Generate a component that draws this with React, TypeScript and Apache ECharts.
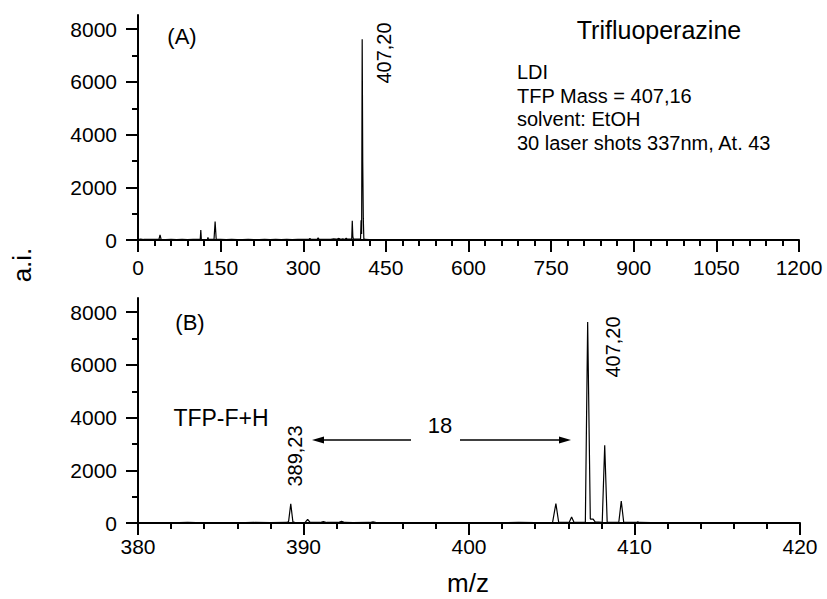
import React, { useEffect, useRef } from "react";
import * as echarts from "echarts";

// Panel A: full range spectrum (m/z, intensity)
const topMz = [0, 5, 10, 20, 30, 38, 40, 42, 50, 60, 70, 80, 90, 100, 110, 113, 114, 115, 120, 126, 127, 128, 138, 140, 142, 150, 160, 170, 180, 190, 200, 210, 220, 230, 240, 250, 260, 270, 280, 290, 300, 310, 312, 314, 325, 327, 329, 340, 350, 355, 360, 365, 368, 372, 375, 378, 380, 388, 389, 390, 391, 404, 405, 406, 407, 408, 409, 410, 412, 420, 440, 480, 520, 560, 600, 650, 700, 750, 800, 850, 900, 950, 1000, 1050, 1100, 1150, 1200];
const topInt = [20, 30, 20, 25, 20, 20, 190, 20, 15, 20, 15, 20, 15, 20, 20, 20, 380, 20, 15, 20, 100, 20, 20, 700, 20, 20, 15, 20, 15, 15, 20, 15, 15, 20, 15, 20, 15, 20, 15, 20, 20, 25, 60, 20, 20, 80, 20, 20, 25, 40, 30, 60, 25, 40, 20, 70, 30, 30, 730, 140, 30, 30, 750, 230, 7620, 2950, 830, 50, 20, 15, 15, 12, 12, 10, 10, 10, 10, 10, 10, 10, 10, 10, 10, 10, 10, 10, 10];

// Panel B: zoom 380-420
const botMz = [380, 381, 382, 383, 384, 385, 386, 387, 388, 389.0, 389.1, 389.23, 389.36, 389.5, 390.1, 390.25, 390.4, 391.0, 391.2, 391.4, 392.1, 392.3, 392.5, 393, 394, 394.2, 394.4, 395, 396, 397, 398, 399, 400, 401, 402, 403, 404, 405.05, 405.25, 405.42, 406.05, 406.2, 406.35, 407.03, 407.17, 407.33, 407.5, 407.62, 408.05, 408.2, 408.35, 409.05, 409.2, 409.35, 410.1, 410.2, 410.3, 411, 412, 413, 414, 415, 416, 417, 418, 419, 420];
const botInt = [10, 15, 10, 20, 10, 15, 10, 20, 15, 20, 60, 730, 40, 15, 20, 140, 20, 20, 50, 20, 20, 60, 20, 15, 20, 40, 15, 10, 15, 10, 15, 10, 15, 10, 15, 20, 15, 20, 740, 20, 20, 230, 20, 20, 7630, 150, 150, 40, 20, 2950, 20, 20, 830, 20, 20, 40, 20, 15, 10, 15, 10, 15, 10, 15, 10, 15, 10];

const yMajor = [0, 2000, 4000, 6000, 8000];
const yMinor = [1000, 3000, 5000, 7000];
const topXTicks = { min: 0, max: 1200, interval: 150 };
const botXTicks = { min: 380, max: 420, interval: 10 };

const FONT = "Liberation Sans, Arial, sans-serif";

export default function App() {
  const ref = useRef<HTMLDivElement>(null);
  useEffect(() => {
    if (!ref.current) return;
    const chart = echarts.init(ref.current, undefined, { renderer: "svg" });
    const axisColor = "#000";
    const yMax = 8540;
    const plain = (v: number) => String(v);
    const mkX = (grid: number, t: { min: number; max: number; interval: number }, margin: number) => ({
      type: "value",
      gridIndex: grid,
      min: t.min,
      max: t.max,
      interval: t.interval,
      axisLine: { show: true, onZero: false, lineStyle: { color: axisColor, width: 2 } },
      axisTick: { show: true, length: 12, lineStyle: { color: axisColor, width: 2 } },
      minorTick: { show: true, splitNumber: 5, length: 6, lineStyle: { color: axisColor, width: 2 } },
      axisLabel: { color: "#000", fontSize: 21, fontFamily: FONT, margin, formatter: plain },
      splitLine: { show: false },
    });
    const mkYMajor = (grid: number) => ({
      type: "value",
      gridIndex: grid,
      min: 0,
      max: yMax,
      axisLine: { show: true, onZero: false, lineStyle: { color: axisColor, width: 2 } },
      axisTick: { show: true, length: 12, customValues: yMajor, lineStyle: { color: axisColor, width: 2 } },
      axisLabel: { color: "#000", fontSize: 21, fontFamily: FONT, margin: 21, customValues: yMajor, formatter: plain },
      splitLine: { show: false },
    });
    const mkYMinor = (grid: number) => ({
      type: "value",
      gridIndex: grid,
      position: "left",
      min: 0,
      max: yMax,
      axisLine: { show: false },
      axisTick: { show: true, length: 6, customValues: yMinor, lineStyle: { color: axisColor, width: 2 } },
      axisLabel: { show: false },
      splitLine: { show: false },
    });
    const zip = (a: number[], b: number[]) => a.map((v, i) => [v, b[i]]);
    const txt = (x: number, y: number, text: string, size: number, extra: any = {}) => ({
      type: "text",
      x,
      y,
      ...extra,
      style: { text, fill: "#000", font: `${size}px ${FONT}`, textAlign: "center", textVerticalAlign: "middle" },
    });
    const left = (x: number, y: number, text: string) => ({
      type: "text",
      x,
      y,
      style: { text, fill: "#000", font: `20px ${FONT}`, textVerticalAlign: "middle" },
    });
    chart.setOption({
      animation: false,
      backgroundColor: "#fff",
      grid: [
        { left: 138, right: 28, top: 15, height: 225 },
        { left: 138, right: 27, top: 298, height: 225 },
      ],
      xAxis: [mkX(0, topXTicks, 17), mkX(1, botXTicks, 13)],
      yAxis: [mkYMajor(0), mkYMinor(0), mkYMajor(1), mkYMinor(1)],
      series: [
        {
          type: "line",
          xAxisIndex: 0,
          yAxisIndex: 0,
          data: zip(topMz, topInt),
          showSymbol: false,
          lineStyle: { color: "#000", width: 1.2 },
        },
        {
          type: "line",
          xAxisIndex: 1,
          yAxisIndex: 2,
          data: zip(botMz, botInt),
          showSymbol: false,
          lineStyle: { color: "#000", width: 1.2 },
        },
      ],
      graphic: [
        txt(182, 36, "(A)", 22),
        txt(190, 322, "(B)", 22),
        txt(659, 30, "Trifluoperazine", 25),
        left(517, 72, "LDI"),
        left(517, 96, "TFP Mass = 407,16"),
        left(517, 119, "solvent: EtOH"),
        left(517, 143, "30 laser shots 337nm, At. 43"),
        txt(384, 53, "407,20", 20, { rotation: Math.PI / 2 }),
        txt(613, 347, "407,20", 20, { rotation: Math.PI / 2 }),
        txt(295, 456, "389,23", 20, { rotation: Math.PI / 2 }),
        txt(221, 418, "TFP-F+H", 23),
        txt(440, 425, "18", 22),
        txt(22, 265, "a.i.", 26, { rotation: Math.PI / 2 }),
        txt(468, 583, "m/z", 26),
        { type: "line", shape: { x1: 411, y1: 440, x2: 322, y2: 440 }, style: { stroke: "#000", lineWidth: 1.3 } },
        { type: "polygon", shape: { points: [[312, 440], [324, 436.5], [324, 443.5]] }, style: { fill: "#000" } },
        { type: "line", shape: { x1: 460, y1: 440, x2: 560, y2: 440 }, style: { stroke: "#000", lineWidth: 1.3 } },
        { type: "polygon", shape: { points: [[571, 440], [559, 436.5], [559, 443.5]] }, style: { fill: "#000" } },
      ],
    });
    return () => chart.dispose();
  }, []);
  return <div ref={ref} style={{ position: "absolute", left: 0, top: 0, width: 827, height: 599 }} />;
}
